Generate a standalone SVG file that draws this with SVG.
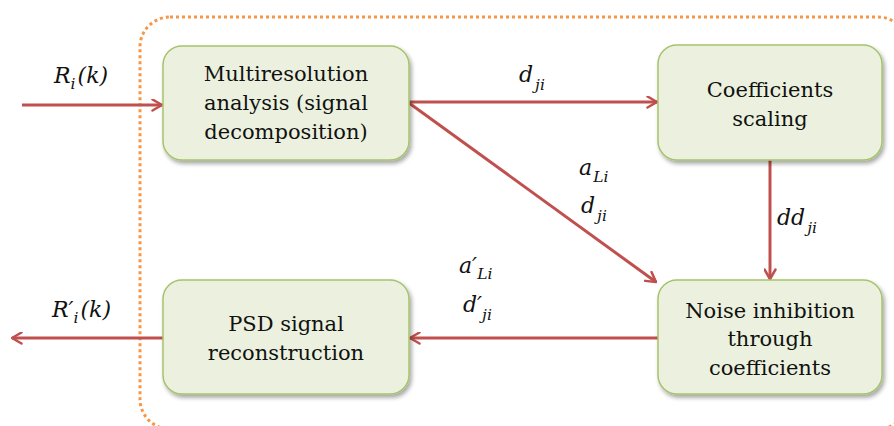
<svg xmlns="http://www.w3.org/2000/svg" width="894" height="426" viewBox="0 0 894 426">
  <style>
    .box { fill: #EBF1DE; stroke: #A6C36B; stroke-width: 1.5; filter: url(#shadow); }
    .lbl { font-family: "DejaVu Serif", serif; font-size: 21px; fill: #111; text-anchor: middle; }
    .math { font-family: "DejaVu Serif", serif; font-style: italic; fill: #111; font-size: 22px; }
    .sub { font-size: 15.5px; }
    .flow { fill: none; stroke: #C0504D; stroke-width: 3; marker-end: url(#head); }
    .frame { fill: none; stroke: #F79646; stroke-width: 3; stroke-dasharray: 3 3; }
  </style>
  <defs>
    <filter id="shadow" x="-10%" y="-10%" width="125%" height="130%">
      <feDropShadow dx="2" dy="3" stdDeviation="2" flood-color="#000" flood-opacity="0.35"/>
    </filter>
    <marker id="head" viewBox="0 0 13 13" refX="11.5" refY="6.5" markerWidth="13" markerHeight="13" markerUnits="userSpaceOnUse" orient="auto">
      <path d="M2,1 L11.5,6.5 L2,12" fill="none" stroke="#C0504D" stroke-width="2.5" stroke-linecap="round" stroke-linejoin="round"/>
    </marker>
  </defs>

  <rect width="894" height="426" fill="#fff"/>

  <!-- dotted processing boundary -->
  <rect class="frame" x="140" y="17" width="768" height="412" rx="30" ry="30"/>

  <!-- connectors -->
  <g id="connectors">
    <line class="flow" x1="22" y1="105" x2="162" y2="105"/>
    <line class="flow" x1="409" y1="102" x2="657" y2="102"/>
    <line class="flow" x1="409" y1="103" x2="656" y2="282"/>
    <line class="flow" x1="770" y1="160" x2="770" y2="279"/>
    <line class="flow" x1="658" y1="338" x2="410" y2="338"/>
    <line class="flow" x1="163" y1="338" x2="12" y2="338"/>
  </g>

  <!-- nodes -->
  <g id="analysis">
    <rect class="box" x="163" y="46" width="246" height="114" rx="19"/>
    <text class="lbl" x="286" y="81">Multiresolution</text>
    <text class="lbl" x="286" y="110">analysis (signal</text>
    <text class="lbl" x="286" y="139">decomposition)</text>
  </g>
  <g id="scaling">
    <rect class="box" x="658" y="45" width="224" height="115" rx="19"/>
    <text class="lbl" x="770" y="97">Coefficients</text>
    <text class="lbl" x="770" y="126">scaling</text>
  </g>
  <g id="inhibition">
    <rect class="box" x="658" y="280" width="224" height="114" rx="19"/>
    <text class="lbl" x="770" y="318">Noise inhibition</text>
    <text class="lbl" x="770" y="346">through</text>
    <text class="lbl" x="770" y="375">coefficients</text>
  </g>
  <g id="reconstruction">
    <rect class="box" x="163" y="280" width="246" height="114" rx="19"/>
    <text class="lbl" x="286" y="331">PSD signal</text>
    <text class="lbl" x="286" y="360">reconstruction</text>
  </g>

  <!-- signal labels -->
  <g id="labels">
    <text class="math" x="54" y="83">R<tspan class="sub" dx="0" dy="6">i</tspan><tspan dx="2" dy="-6">(k)</tspan></text>
    <text class="math" x="52" y="317">R′<tspan class="sub" dx="0" dy="6">i</tspan><tspan dx="2" dy="-6">(k)</tspan></text>
    <text class="math" x="519" y="82">d<tspan class="sub" dx="2" dy="8">ji</tspan></text>
    <text class="math" x="579" y="175">a<tspan class="sub" dx="1" dy="7">Li</tspan></text>
    <text class="math" x="581" y="213">d<tspan class="sub" dx="2" dy="8">ji</tspan></text>
    <text class="math" x="777" y="225">dd<tspan class="sub" dx="2" dy="8">ji</tspan></text>
    <text class="math" x="459" y="273">a′<tspan class="sub" dx="0" dy="6">Li</tspan></text>
    <text class="math" x="463" y="312">d′<tspan class="sub" dx="0" dy="8">ji</tspan></text>
  </g>
</svg>
